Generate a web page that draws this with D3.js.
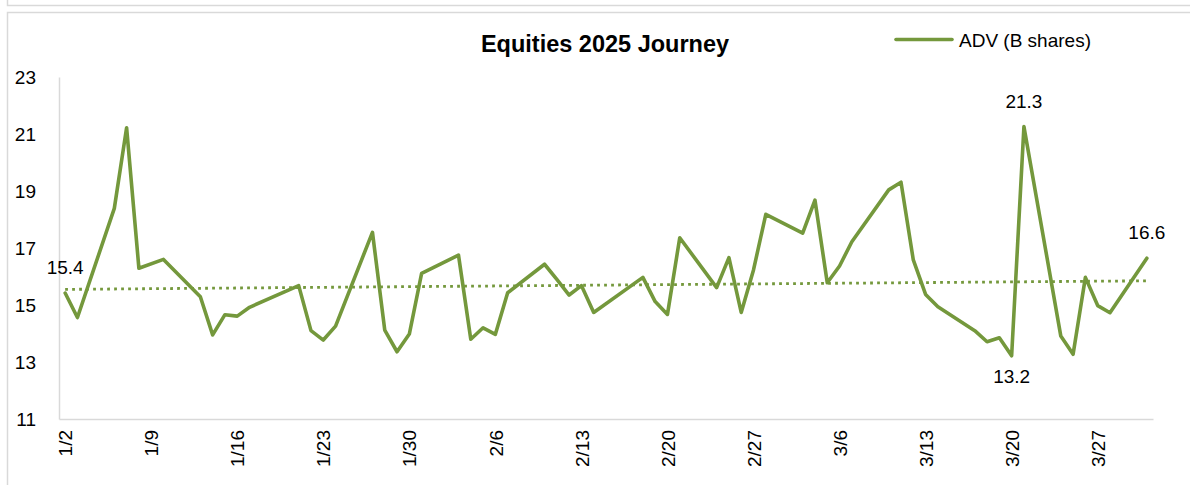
<!DOCTYPE html>
<html>
<head>
<meta charset="utf-8">
<script src="https://cdn.jsdelivr.net/npm/d3@7"></script>
<style>
  body { margin: 0; background: #fff; }
  text { font-family: "Liberation Sans", Arial, sans-serif; fill: #000; }
</style>
</head>
<body>
<div id="chart"></div>
<script>
// trading days, Q1 2025
var dates = [
  "1/2", "1/3", "1/6", "1/7", "1/8", "1/10", "1/13", "1/14", "1/15", "1/16", "1/17",
  "1/21", "1/22", "1/23", "1/24", "1/27", "1/28", "1/29", "1/30", "1/31",
  "2/3", "2/4", "2/5", "2/6", "2/7", "2/10", "2/11", "2/12", "2/13", "2/14",
  "2/18", "2/19", "2/20", "2/21", "2/24", "2/25", "2/26", "2/27", "2/28",
  "3/3", "3/4", "3/5", "3/6", "3/7", "3/10", "3/11", "3/12", "3/13", "3/14",
  "3/17", "3/18", "3/19", "3/20", "3/21", "3/24", "3/25", "3/26", "3/27", "3/28", "3/31"
];
// ADV, billions of shares
var adv = [
  15.42, 14.56, 18.39, 21.22, 16.29, 16.6, 15.29, 13.95, 14.66, 14.61, 14.92,
  15.68, 14.1, 13.77, 14.26, 17.55, 14.12, 13.36, 13.98, 16.11,
  16.75, 13.8, 14.2, 13.97, 15.43, 16.43, 15.9, 15.35, 15.68, 14.74,
  15.97, 15.12, 14.67, 17.36, 15.61, 16.66, 14.74, 16.23, 18.18,
  17.52, 18.68, 15.78, 16.37, 17.22, 19.04, 19.31, 16.58, 15.37, 14.94,
  14.1, 13.71, 13.85, 13.22, 21.26, 13.91, 13.27, 15.97, 14.98, 14.73, 16.64
];
var xTickLabels = ["1/2", "1/9", "1/16", "1/23", "1/30", "2/6", "2/13", "2/20", "2/27", "3/6", "3/13", "3/20", "3/27"];
var yTicks = [11, 13, 15, 17, 19, 21, 23];
// points that carry a data label
var labelDates = ["1/2", "3/21", "3/20", "3/31"];
var labelBelow = ["3/20"];

var title = "Equities 2025 Journey";
var seriesName = "ADV (B shares)";
var green = "#74983c";

var parseDate = d3.timeParse("%m/%d/%Y");
function toDate(s) { return parseDate(s + "/2025"); }

var data = dates.map(function (d, i) {
  return { date: toDate(d), key: d, value: adv[i] };
});

var width = 1190, height = 485;

var svg = d3.select("#chart")
  .append("svg")
  .attr("width", width)
  .attr("height", height);

// frames (chart box, plus the bottom of the one above)
svg.append("rect")
  .attr("x", 7.5).attr("y", -20)
  .attr("width", 1200).attr("height", 25.5)
  .attr("fill", "none").attr("stroke", "#d9d9d9").attr("stroke-width", 1.5);
svg.append("rect")
  .attr("x", 7.5).attr("y", 12.5)
  .attr("width", 1200).attr("height", 500)
  .attr("fill", "none").attr("stroke", "#d9d9d9").attr("stroke-width", 1.5);

// scales: half a day of padding on each side of the date range
var x = d3.scaleTime()
  .domain([d3.timeHour.offset(data[0].date, -12), d3.timeHour.offset(data[data.length - 1].date, 12)])
  .range([59, 1153]);
var y = d3.scaleLinear().domain([11, 23]).range([419, 77]);

// y axis
var yAxis = svg.append("g")
  .attr("transform", "translate(59,0)")
  .call(d3.axisLeft(y).tickValues(yTicks).tickSize(0).tickPadding(23).tickFormat(d3.format("d")));
yAxis.select(".domain").attr("stroke", "#d9d9d9").attr("stroke-width", 1.5);
yAxis.selectAll("text")
  .style("font-size", "19px")
  .style("font-family", "Liberation Sans, Arial, sans-serif")
  .attr("fill", "#000");

// x axis
var xAxis = svg.append("g")
  .attr("transform", "translate(0,419)")
  .call(d3.axisBottom(x).tickValues(xTickLabels.map(toDate)).tickSize(0).tickFormat(d3.timeFormat("%-m/%-d")));
xAxis.select(".domain").attr("stroke", "#d9d9d9").attr("stroke-width", 1.5);
xAxis.selectAll("text")
  .style("font-size", "19px")
  .style("font-family", "Liberation Sans, Arial, sans-serif")
  .attr("fill", "#000")
  .attr("transform", "rotate(-90)")
  .attr("text-anchor", "end")
  .attr("x", -11)
  .attr("y", 0)
  .attr("dy", "0.35em");

// linear trendline (least squares on day number)
var t0 = data[0].date;
var xs = data.map(function (d) { return (d.date - t0) / 864e5; });
var mx = d3.mean(xs), my = d3.mean(adv);
var slope = d3.sum(xs, function (v, i) { return (v - mx) * (adv[i] - my); }) /
  d3.sum(xs, function (v) { return (v - mx) * (v - mx); });
var icept = my - slope * mx;
var trend = [data[0], data[data.length - 1]].map(function (d) {
  return { date: d.date, value: icept + slope * (d.date - t0) / 864e5 };
});

var valueline = d3.line()
  .x(function (d) { return x(d.date); })
  .y(function (d) { return y(d.value); });

svg.append("path")
  .datum(trend)
  .attr("d", valueline)
  .attr("fill", "none")
  .attr("stroke", green)
  .attr("stroke-width", 2.8)
  .attr("stroke-dasharray", "2.8,4.2");

svg.append("path")
  .datum(data)
  .attr("d", valueline)
  .attr("fill", "none")
  .attr("stroke", green)
  .attr("stroke-width", 3.6)
  .attr("stroke-linejoin", "round")
  .attr("stroke-linecap", "round");

// data labels
svg.selectAll(".dlabel")
  .data(data.filter(function (d) { return labelDates.indexOf(d.key) >= 0; }))
  .enter()
  .append("text")
  .attr("class", "dlabel")
  .attr("x", function (d) { return x(d.date); })
  .attr("y", function (d) {
    return labelBelow.indexOf(d.key) >= 0 ? y(d.value) + 27 : y(d.value) - 19;
  })
  .attr("text-anchor", "middle")
  .style("font-size", "19px")
  .text(function (d) { return d.value.toFixed(1); });

// title
svg.append("text")
  .attr("x", 605)
  .attr("y", 52)
  .attr("text-anchor", "middle")
  .style("font-size", "23.5px")
  .style("font-weight", "bold")
  .text(title);

// legend
svg.append("line")
  .attr("x1", 896).attr("x2", 952)
  .attr("y1", 39.5).attr("y2", 39.5)
  .attr("stroke", green)
  .attr("stroke-width", 3.6)
  .attr("stroke-linecap", "round");
svg.append("text")
  .attr("x", 959)
  .attr("y", 46.5)
  .style("font-size", "19px")
  .text(seriesName);
</script>
</body>
</html>
